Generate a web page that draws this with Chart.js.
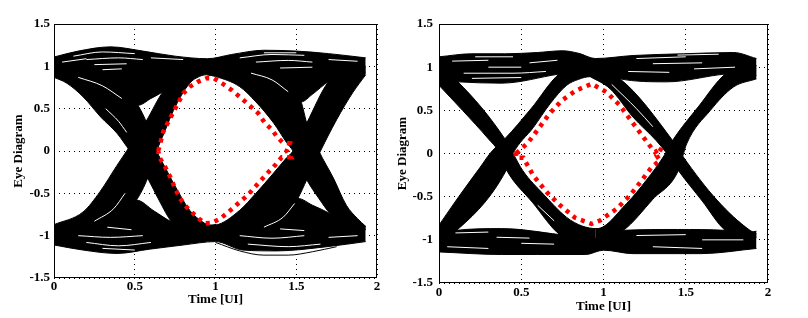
<!DOCTYPE html>
<html>
<head>
<meta charset="utf-8">
<script src="https://cdn.jsdelivr.net/npm/chart.js@4.4.0/dist/chart.umd.min.js"></script>
<style>
  body { margin: 0; background: #fff; }
  #wrap { position: relative; width: 808px; height: 318px; }
  canvas { position: absolute; top: 0; }
</style>
</head>
<body>
<div id="wrap">
  <canvas id="eyeLeft" width="390" height="318" style="left:0"></canvas>
  <canvas id="eyeRight" width="418" height="318" style="left:390px"></canvas>
</div>
<script>
// tick labels
const xTickLabels = ['0', '0.5', '1', '1.5', '2'];
const yTickLabels = ['-1.5', '-1', '-0.5', '0', '0.5', '1', '1.5'];

// ---- left eye: band edges, [time UI, level] ----
const aTopUpper = [[0,1.11],[0.15,1.18],[0.35,1.23],[0.55,1.18],[0.75,1.12],[0.95,1.09],[1.1,1.14],[1.3,1.19],[1.5,1.18],[1.7,1.15],[1.93,1.1]];
const aTopLower = [[0,0.95],[0.3,0.88],[0.45,0.7],[0.52,0.54],[0.6,0.62],[0.675,0.7],[0.8,0.88],[0.95,0.95],[1.1,0.95],[1.3,0.88],[1.45,0.72],[1.53,0.58],[1.6,0.67],[1.7,0.82],[1.8,0.9],[1.93,0.92]];
const aBotUpper = [[0,-0.95],[0.2,-0.88],[0.4,-0.72],[0.51,-0.58],[0.62,-0.71],[0.73,-0.84],[0.85,-0.93],[0.95,-0.95],[1.1,-0.93],[1.3,-0.82],[1.45,-0.66],[1.51,-0.56],[1.6,-0.64],[1.71,-0.74],[1.8,-0.85],[1.93,-0.89]];
const aBotLower = [[0,-1.11],[0.18,-1.17],[0.39,-1.21],[0.59,-1.16],[0.8,-1.11],[1.0,-1.07],[1.17,-1.17],[1.38,-1.18],[1.69,-1.13],[1.93,-1.07]];
const aFall1Upper = [[0,1.05],[0.2,0.97],[0.35,0.86],[0.45,0.72],[0.52,0.54],[0.57,0.35],[0.636,0],[0.69,-0.2],[0.74,-0.38],[0.84,-0.7],[0.9,-0.81],[0.966,-0.875],[1.0,-0.87]];
const aFall1Lower = [[0,0.87],[0.08,0.8],[0.18,0.64],[0.29,0.4],[0.39,0.21],[0.47,0],[0.53,-0.15],[0.58,-0.32],[0.65,-0.58],[0.73,-0.84],[0.85,-0.97],[1.0,-1.0]];
const aRise1Upper = [[0,-0.87],[0.18,-0.72],[0.285,-0.48],[0.39,-0.17],[0.45,0],[0.57,0.35],[0.675,0.7],[0.8,0.92],[1.0,1.0]];
const aRise1Lower = [[0,-1.05],[0.2,-0.95],[0.4,-0.75],[0.51,-0.58],[0.58,-0.32],[0.636,0],[0.69,0.25],[0.74,0.48],[0.84,0.8],[0.9,0.88],[0.945,0.9],[1.0,0.89]];
const aFall2Upper = [[0.95,1.05],[1.2,1.0],[1.4,0.85],[1.53,0.58],[1.565,0.33],[1.64,0],[1.73,-0.32],[1.81,-0.64],[1.88,-0.8],[1.93,-0.89]];
const aFall2Lower = [[0.95,0.9],[1.0,0.88],[1.15,0.76],[1.25,0.58],[1.36,0.33],[1.44,0.1],[1.48,0],[1.565,-0.34],[1.64,-0.56],[1.71,-0.74],[1.8,-0.87],[1.93,-0.93]];
const aRise2Upper = [[0.95,-0.88],[1.0,-0.875],[1.15,-0.7],[1.25,-0.5],[1.36,-0.26],[1.44,-0.08],[1.48,0],[1.565,0.33],[1.7,0.82],[1.8,0.95],[1.93,1.0]];
const aRise2Lower = [[0.95,-1.05],[1.2,-1.0],[1.4,-0.85],[1.51,-0.56],[1.565,-0.34],[1.65,0],[1.75,0.37],[1.85,0.69],[1.93,0.9]];
const aOutlier = [[1.0,-1.08],[1.15,-1.18],[1.3,-1.23],[1.45,-1.23],[1.6,-1.19],[1.75,-1.13]];
const aMask = [[0.645,0],[0.677,0.23],[0.739,0.46],[0.8,0.68],[0.842,0.76],[0.894,0.82],[0.945,0.86],[0.99,0.86],[1.04,0.8],[1.1,0.72],[1.15,0.64],[1.21,0.54],[1.265,0.445],[1.306,0.33],[1.35,0.25],[1.38,0.17],[1.416,0.1],[1.46,0.09],[1.44,0],[1.465,-0.075],[1.41,-0.075],[1.37,-0.165],[1.33,-0.245],[1.265,-0.38],[1.2,-0.52],[1.14,-0.62],[1.08,-0.72],[1.03,-0.8],[0.976,-0.85],[0.935,-0.855],[0.904,-0.81],[0.863,-0.74],[0.82,-0.66],[0.78,-0.56],[0.749,-0.44],[0.718,-0.3],[0.687,-0.185],[0.656,-0.086],[0.645,0]];
// white gaps between traces inside the black bands
const aStreaks = [
    [[0.12,1.12],[0.3,1.17],[0.5,1.15]],
    [[0.2,1.08],[0.4,1.1],[0.55,1.08]],
    [[0.25,1.02],[0.45,1.03]],
    [[0.3,0.96],[0.42,0.97]],
    [[0.05,1.05],[0.2,1.09]],
    [[0.6,1.1],[0.8,1.08]],
    [[0.15,0.87],[0.3,0.77],[0.42,0.62]],
    [[0.32,0.5],[0.4,0.35],[0.45,0.22]],
    [[1.15,1.1],[1.35,1.14],[1.55,1.13]],
    [[1.25,1.05],[1.45,1.07],[1.6,1.05]],
    [[1.4,0.98],[1.6,0.99]],
    [[1.7,1.08],[1.88,1.06]],
    [[1.3,1.16],[1.5,1.16]],
    [[1.22,0.92],[1.35,0.84],[1.45,0.7]],
    [[0.15,-1.0],[0.35,-1.02],[0.55,-1.0]],
    [[0.2,-1.08],[0.4,-1.12],[0.6,-1.08]],
    [[0.3,-1.15],[0.5,-1.17]],
    [[0.33,-0.9],[0.48,-0.93]],
    [[0.25,-0.83],[0.37,-0.68],[0.44,-0.5]],
    [[1.15,-1.0],[1.35,-1.03],[1.55,-1.0]],
    [[1.2,-1.1],[1.45,-1.13],[1.65,-1.1]],
    [[1.4,-0.92],[1.55,-0.94]],
    [[1.7,-1.02],[1.88,-1.0]],
    [[1.3,-0.9],[1.42,-0.78],[1.49,-0.62]]
];

// ---- right eye ----
const bTopUpper = [[0,1.12],[0.2,1.155],[0.4,1.155],[0.6,1.17],[0.75,1.19],[0.85,1.16],[0.95,1.1],[1.18,1.135],[1.485,1.155],[1.79,1.17],[1.93,1.1]];
const bTopLower = [[0,0.85],[0.115,0.83],[0.38,0.815],[0.73,0.92],[0.85,0.95],[0.95,0.97],[1.1,0.865],[1.385,0.83],[1.74,0.92],[1.85,0.93],[1.93,0.9]];
const bBotUpper = [[0,-0.95],[0.107,-0.89],[0.38,-0.87],[0.735,-0.94],[0.85,-0.97],[0.96,-0.98],[1.12,-0.89],[1.45,-0.88],[1.74,-0.89],[1.85,-0.92],[1.93,-0.9]];
const bBotLower = [[0,-1.14],[0.38,-1.17],[0.6,-1.17],[0.89,-1.17],[1.0,-1.12],[1.18,-1.16],[1.59,-1.16],[1.93,-1.1]];
const bFall1Upper = [[0,1.0],[0.115,0.83],[0.4,0.17],[0.45,0],[0.51,-0.2],[0.634,-0.47],[0.776,-0.74],[0.87,-0.84],[0.96,-0.87],[1.0,-0.87]];
const bFall1Lower = [[0,0.79],[0.143,0.5],[0.3,0.17],[0.36,0.03],[0.41,-0.19],[0.57,-0.57],[0.735,-0.94],[0.85,-1.0],[0.95,-1.02]];
const bRise1Upper = [[0,-0.83],[0.12,-0.5],[0.25,-0.16],[0.31,0],[0.36,0.1],[0.4,0.17],[0.56,0.52],[0.73,0.92],[0.85,1.0],[0.95,1.02]];
const bRise1Lower = [[0,-1.0],[0.107,-0.89],[0.41,-0.19],[0.45,0],[0.573,0.3],[0.675,0.575],[0.776,0.79],[0.85,0.86],[0.918,0.89],[0.96,0.89]];
const bFall2Upper = [[0.92,1.0],[1.1,0.865],[1.42,0.15],[1.485,-0.04],[1.69,-0.54],[1.89,-0.89],[1.93,-0.93]];
const bFall2Lower = [[0.92,0.89],[1.04,0.75],[1.18,0.42],[1.32,0.15],[1.385,0],[1.455,-0.197],[1.6,-0.55],[1.74,-0.89],[1.85,-0.95],[1.93,-0.97]];
const bRise2Upper = [[0.92,-0.87],[0.96,-0.87],[1.14,-0.58],[1.26,-0.31],[1.37,-0.02],[1.42,0.15],[1.58,0.55],[1.74,0.92],[1.85,1.0],[1.93,1.02]];
const bRise2Lower = [[0.95,-1.0],[1.12,-0.89],[1.3,-0.53],[1.455,-0.197],[1.505,0.11],[1.65,0.5],[1.79,0.77],[1.93,0.865]];
const bMask = [[0.47,0],[0.543,0.13],[0.604,0.286],[0.671,0.46],[0.746,0.614],[0.833,0.73],[0.928,0.807],[1.019,0.71],[1.1,0.556],[1.16,0.4],[1.22,0.247],[1.28,0.093],[1.313,0.015],[1.354,0.066],[1.323,-0.023],[1.343,-0.081],[1.293,-0.158],[1.232,-0.313],[1.16,-0.487],[1.08,-0.64],[0.979,-0.776],[0.928,-0.815],[0.827,-0.745],[0.736,-0.6],[0.655,-0.448],[0.573,-0.255],[0.513,-0.05],[0.47,-0.05],[0.462,0.035],[0.47,0]];
const bStreaks = [
    [[0.22,1.12],[0.45,1.12]],
    [[0.08,1.07],[0.3,1.08]],
    [[0.3,1.0],[0.5,1.0]],
    [[0.15,0.93],[0.45,0.93],[0.65,0.95]],
    [[0.2,0.87],[0.5,0.88]],
    [[0.55,1.05],[0.72,1.08]],
    [[1.2,1.1],[1.5,1.12]],
    [[1.3,1.04],[1.6,1.05]],
    [[1.15,0.95],[1.4,0.94]],
    [[1.45,1.14],[1.7,1.15]],
    [[1.55,0.98],[1.8,1.0]],
    [[1.05,0.8],[1.2,0.52],[1.3,0.31]],
    [[0.1,-0.92],[0.3,-0.91]],
    [[0.35,-0.97],[0.55,-0.98]],
    [[0.05,-1.08],[0.3,-1.1]],
    [[0.5,-1.04],[0.7,-1.05]],
    [[1.2,-0.95],[1.5,-0.94]],
    [[1.3,-1.08],[1.6,-1.1]],
    [[1.6,-1.0],[1.85,-1.0]],
    [[0.6,-0.6],[0.7,-0.78]]
];

Chart.defaults.font.family = '"Liberation Serif", "Times New Roman", serif';
Chart.defaults.font.size = 13;
Chart.defaults.font.weight = 'bold';
Chart.defaults.color = '#000';

function pts(arr) {
    return arr.map(function (p) { return {x: p[0], y: p[1]}; });
}

function edge(arr, fill) {
    return {
        data: pts(arr),
        borderColor: '#000',
        backgroundColor: '#000',
        borderWidth: 1,
        pointRadius: 0,
        cubicInterpolationMode: 'monotone',
        fill: fill,
        order: 3
    };
}

// a band = fill between its upper and lower edge
function band(upper, lower) {
    return [edge(upper, '+1'), edge(lower, false)];
}

function streakSets(lines) {
    return lines.map(function (l) {
        return {
            data: pts(l),
            borderColor: '#fff',
            borderWidth: 1,
            pointRadius: 0,
            cubicInterpolationMode: 'monotone',
            fill: false,
            order: 2
        };
    });
}

function maskSet(arr) {
    return {
        data: pts(arr),
        borderColor: '#ff0000',
        borderWidth: 4.5,
        borderDash: [4, 5],
        pointRadius: 0,
        tension: 0,
        fill: false,
        order: 1
    };
}

const framePlugin = {
    id: 'frame',
    afterDatasetsDraw(chart) {
        const a = chart.chartArea;
        const ctx = chart.ctx;
        ctx.save();
        ctx.strokeStyle = '#000';
        ctx.lineWidth = 1;
        ctx.strokeRect(Math.round(a.left) + 0.5, Math.round(a.top) + 0.5,
            Math.round(a.right - a.left) - 1, Math.round(a.bottom - a.top) - 1);
        ctx.restore();
    }
};

function makeEye(id, datasets, lay) {
    new Chart(document.getElementById(id), {
        type: 'line',
        data: { datasets: datasets },
        options: {
            responsive: false,
            animation: false,
            devicePixelRatio: 1,
            layout: { padding: { left: 0, right: lay.right, top: 24, bottom: 0 } },
            plugins: { legend: { display: false }, tooltip: { enabled: false } },
            scales: {
                x: {
                    type: 'linear', min: 0, max: 2,
                    afterFit: function (s) { s.height = lay.xh; },
                    ticks: { stepSize: 0.5, padding: lay.xpad, maxRotation: 0,
                        callback: function (v, i) { return xTickLabels[i]; } },
                    grid: { color: '#000', lineWidth: 1, drawTicks: false },
                    border: { display: false, dash: [1, 4] },
                    title: { display: true, text: 'Time [UI]', padding: { top: 0, bottom: lay.xtitle } }
                },
                y: {
                    type: 'linear', min: -1.5, max: 1.5,
                    afterFit: function (s) { s.width = lay.yw; },
                    ticks: { stepSize: 0.5, padding: lay.ypad,
                        callback: function (v, i) { return yTickLabels[i]; } },
                    grid: { color: '#000', lineWidth: 1, drawTicks: false },
                    border: { display: false, dash: [1, 4] },
                    title: { display: true, text: 'Eye Diagram', padding: { top: lay.ytitle, bottom: 0 } }
                }
            }
        },
        plugins: [framePlugin]
    });
}

const leftSets = [].concat(
    band(aTopUpper, aTopLower),
    band(aBotUpper, aBotLower),
    band(aFall1Upper, aFall1Lower),
    band(aRise1Upper, aRise1Lower),
    band(aFall2Upper, aFall2Lower),
    band(aRise2Upper, aRise2Lower),
    [edge(aOutlier, false)],
    streakSets(aStreaks),
    [maskSet(aMask)]
);

const rightSets = [].concat(
    band(bTopUpper, bTopLower),
    band(bBotUpper, bBotLower),
    band(bFall1Upper, bFall1Lower),
    band(bRise1Upper, bRise1Lower),
    band(bFall2Upper, bFall2Lower),
    band(bRise2Upper, bRise2Lower),
    streakSets(bStreaks),
    [maskSet(bMask)]
);

makeEye('eyeLeft', leftSets, { right: 13, xh: 40, yw: 54, xpad: 1, ypad: 4, xtitle: 11, ytitle: 11 });
makeEye('eyeRight', rightSets, { right: 40, xh: 35, yw: 49, xpad: 2, ypad: 6, xtitle: 4, ytitle: 5 });
</script>
</body>
</html>
